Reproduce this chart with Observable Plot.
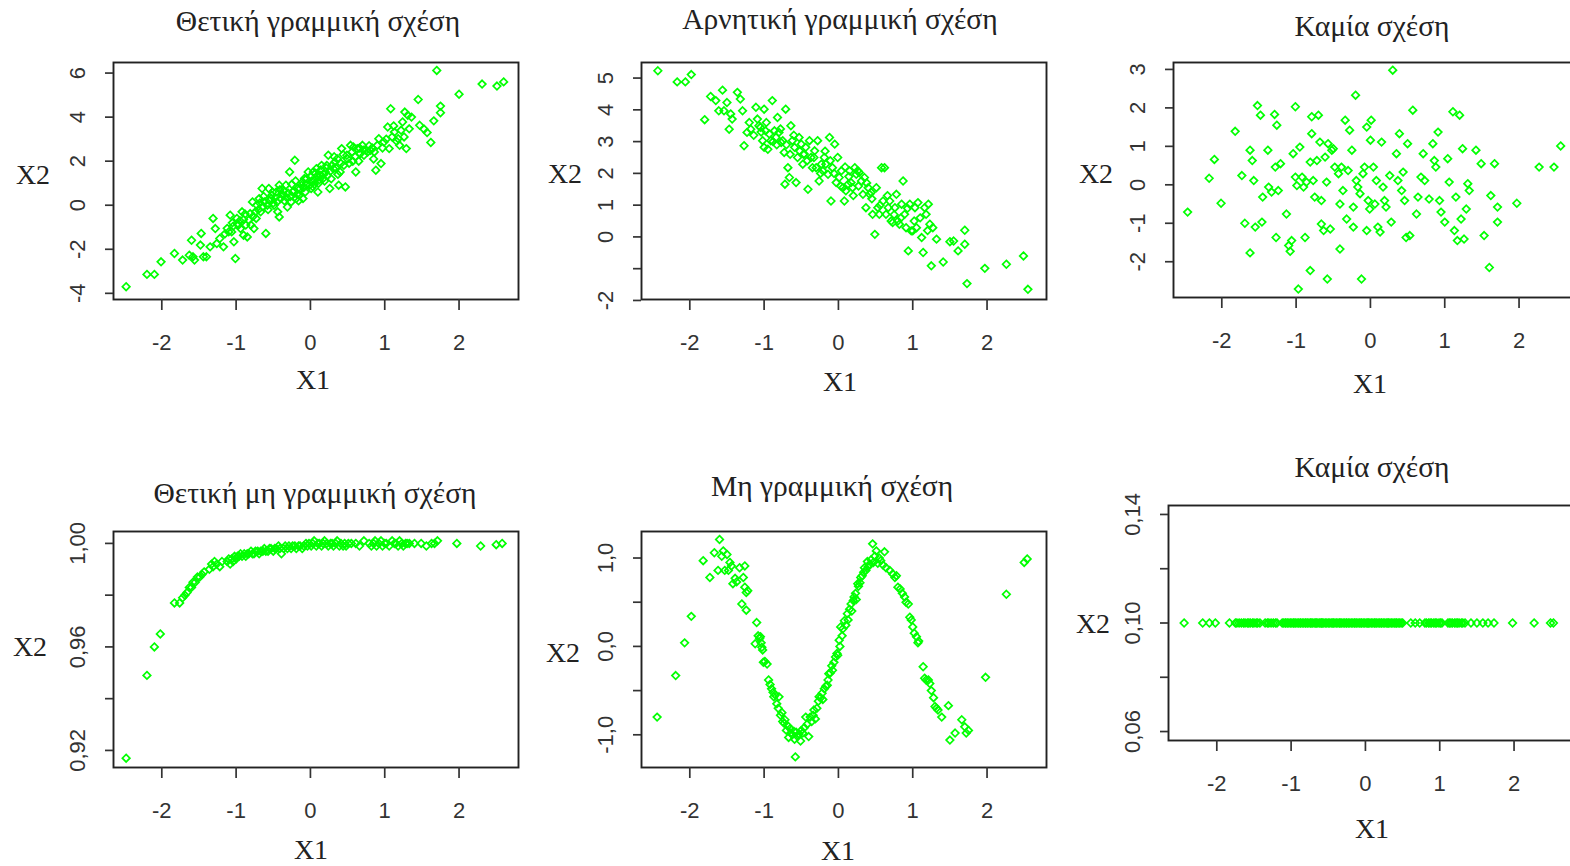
<!DOCTYPE html>
<html><head><meta charset="utf-8">
<script src="https://cdn.jsdelivr.net/npm/d3@7"></script>
<script src="https://cdn.jsdelivr.net/npm/@observablehq/plot@0.6"></script>
<style>
html,body{margin:0;padding:0;background:#fff;}
#root{position:relative;width:1570px;height:866px;overflow:hidden;background:#fff;}
.lbl{position:absolute;transform:translate(-50%,-50%);font-family:"Liberation Serif","Times New Roman",serif;color:#222;white-space:nowrap;line-height:1;}
</style></head><body><div id="root"></div>
<script>
// ---- shared axis values ----
const xDomain = [-2.65, 2.8];
const xTicks = [-2, -1, 0, 1, 2];
const xTickLabels = ["-2", "-1", "0", "1", "2"];

// ---- panel titles ----
const titles = ["Θετική γραμμική σχέση", "Αρνητική γραμμική σχέση", "Καμία σχέση",
                "Θετική μη γραμμική σχέση", "Μη γραμμική σχέση", "Καμία σχέση"];

// ---- y ticks / labels per panel ----
const yTicks1 = [-4, -2, 0, 2, 4, 6];
const yLabels1 = ["-4", "-2", "0", "2", "4", "6"];
const yTicks2 = [-2, -1, 0, 1, 2, 3, 4, 5];
const yLabels2 = ["-2", "", "0", "1", "2", "3", "4", "5"];
const yTicks3 = [-2, -1, 0, 1, 2, 3];
const yLabels3 = ["-2", "-1", "0", "1", "2", "3"];
const yTicks4 = [0.92, 0.94, 0.96, 0.98, 1.00];
const yLabels4 = ["0,92", "", "0,96", "", "1,00"];
const yTicks5 = [-1, -0.5, 0, 0.5, 1];
const yLabels5 = ["-1,0", "", "0,0", "", "1,0"];
const yTicks6 = [0.06, 0.08, 0.10, 0.12, 0.14];
const yLabels6 = ["0,06", "", "0,10", "", "0,14"];

// ---- data: [X1, X2] pairs ----
const pos1 = [[-2.48,-3.70],[-2.20,-3.14],[-2.10,-3.14],[-2.01,-2.57],[-1.83,-2.19],[-1.72,-2.49],[-1.63,-2.27],[-1.58,-2.34],[-1.56,-2.49],[-1.60,-1.59],[-1.48,-1.81],[-1.47,-1.28],[-1.44,-2.34],[-1.40,-2.34],[-1.35,-1.89],[-1.31,-0.60],[-1.28,-1.06],[-1.26,-1.74],[-1.22,-1.51],[-1.17,-1.89],[-1.10,-1.21],[-1.08,-0.45],[-1.06,-1.21],[-1.03,-1.66],[-1.01,-2.42],[-0.99,-0.60],[-0.97,-0.91],[-0.94,-1.06],[-0.92,-0.30],[-0.90,-1.36],[-0.85,-1.44],[-0.83,-0.68],[-0.81,-0.38],[-0.78,0.15],[-0.76,-1.06],[-0.74,-0.30],[-0.72,0.00],[-0.69,0.30],[-0.67,-0.30],[-0.65,0.76],[-0.62,0.15],[-0.60,-1.28],[-0.58,0.00],[-0.56,0.76],[-0.53,0.30],[-0.51,0.60],[-0.49,0.00],[-0.46,0.60],[-0.44,-0.30],[-0.42,-0.53],[-0.42,0.91],[-0.40,0.30],[-0.37,0.45],[-0.33,0.91],[-0.31,-0.08],[-0.28,1.51],[-0.26,0.15],[-0.24,0.60],[-0.21,2.04],[-0.19,0.30],[-0.17,0.76],[-0.15,0.45],[-0.12,0.91],[-0.10,0.30],[-0.08,1.21],[-0.05,1.21],[-0.03,1.51],[-0.01,0.91],[0.01,0.76],[0.04,1.51],[0.06,1.13],[0.08,1.66],[0.10,0.60],[0.13,1.36],[0.15,1.81],[0.17,1.21],[0.20,1.51],[0.22,1.81],[0.24,2.27],[0.26,0.76],[0.29,1.81],[0.31,1.66],[0.33,1.96],[0.36,2.11],[0.38,0.91],[0.40,1.51],[0.42,2.57],[0.45,1.81],[0.47,0.83],[0.49,2.27],[0.54,2.72],[0.56,2.42],[0.58,2.64],[0.61,1.51],[0.63,2.57],[0.67,2.34],[0.70,2.72],[0.72,2.27],[0.77,2.42],[0.81,2.49],[0.86,2.42],[0.88,1.59],[0.90,2.72],[0.92,3.02],[0.95,1.89],[0.99,2.87],[1.04,3.55],[1.06,2.57],[1.08,4.38],[1.13,3.32],[1.18,3.02],[1.20,2.72],[1.24,3.78],[1.27,4.23],[1.29,2.57],[1.31,4.08],[1.33,3.47],[1.36,4.00],[1.45,4.80],[1.47,3.63],[1.53,3.45],[1.57,3.30],[1.62,2.85],[1.66,3.83],[1.75,4.50],[1.75,4.20],[1.70,6.12],[2.00,5.04],[2.31,5.50],[2.51,5.41],[2.60,5.60],[-0.70,-0.20],[-0.64,-0.05],[-0.55,0.20],[-0.50,0.10],[-0.47,0.35],[-0.38,0.50],[-0.35,0.20],[-0.30,0.55],[-0.27,0.40],[-0.22,0.65],[-0.18,0.50],[-0.14,0.75],[-0.09,0.80],[-0.06,0.95],[0.02,1.10],[0.05,0.95],[0.09,1.30],[0.12,1.15],[0.18,1.40],[0.23,1.35],[0.27,1.55],[0.34,1.70],[0.41,1.90],[0.50,2.10],[0.60,2.20],[0.66,2.60],[0.75,2.50],[0.83,2.60],[-0.98,-0.85],[-0.90,-0.65],[-0.87,-0.90],[-1.12,-1.05],[-1.04,-0.95],[1.10,3.10],[1.22,3.40],[1.16,2.90],[-1.15,-1.30],[-1.05,-0.80],[-0.95,-0.70],[-0.88,-0.40],[-0.80,-0.90],[-0.77,-0.50],[-0.73,-0.60],[-0.68,0.10],[-0.63,0.40],[-0.57,-0.20],[-0.52,0.45],[-0.45,0.15],[-0.41,0.70],[-0.36,0.65],[-0.32,0.35],[-0.25,0.95],[-0.20,1.10],[-0.16,0.20],[-0.11,1.05],[-0.07,0.60],[0.00,1.30],[0.03,0.85],[0.07,1.45],[0.11,1.00],[0.14,1.60],[0.19,1.10],[0.21,1.70],[0.28,1.20],[0.32,2.20],[0.37,1.40],[0.44,2.30],[0.52,1.90],[0.57,2.00],[0.65,2.00],[0.71,2.50],[0.79,2.70],[0.85,2.10],[0.97,2.60],[1.02,3.00],[1.12,3.60],[1.26,3.10]];

const pos2 = [[-2.43,5.23],[-2.17,4.88],[-2.06,4.88],[-1.98,5.11],[-1.80,3.69],[-1.72,4.42],[-1.65,4.29],[-1.56,4.62],[-1.54,3.97],[-1.61,3.97],[-1.50,4.23],[-1.47,3.39],[-1.43,3.71],[-1.45,3.87],[-1.36,4.55],[-1.32,4.34],[-1.29,3.97],[-1.27,2.87],[-1.23,3.29],[-1.18,3.39],[-1.11,4.08],[-1.09,3.71],[-1.07,3.50],[-1.05,3.45],[-1.02,3.03],[-1.00,4.02],[-1.00,2.82],[-0.98,3.34],[-0.95,2.76],[-0.93,3.24],[-0.91,3.03],[-0.89,4.29],[-0.86,3.34],[-0.84,3.13],[-0.82,3.76],[-0.80,3.29],[-0.77,2.97],[-0.75,3.03],[-0.73,2.66],[-0.72,1.66],[-0.71,4.02],[-0.68,2.18],[-0.66,1.87],[-0.64,3.50],[-0.62,3.03],[-0.59,2.82],[-0.57,1.71],[-0.55,2.50],[-0.53,3.13],[-0.50,2.92],[-0.48,2.29],[-0.46,2.61],[-0.44,2.82],[-0.41,1.50],[-0.39,3.03],[-0.37,2.50],[-0.35,2.18],[-0.32,2.71],[-0.30,2.18],[-0.28,3.03],[-0.26,1.76],[-0.23,2.29],[-0.21,2.08],[-0.19,2.50],[-0.17,2.29],[-0.14,1.97],[-0.12,3.13],[-0.10,1.13],[-0.08,2.18],[-0.05,2.92],[-0.03,1.71],[-0.01,2.50],[0.01,1.87],[0.04,2.08],[0.06,1.55],[0.08,1.13],[0.10,1.45],[0.13,1.66],[0.15,2.08],[0.17,1.71],[0.19,1.55],[0.22,2.18],[0.24,1.97],[0.26,2.08],[0.28,2.03],[0.31,1.76],[0.33,1.34],[0.35,1.87],[0.37,0.92],[0.40,1.55],[0.42,1.34],[0.44,1.40],[0.46,0.71],[0.49,0.08],[0.51,1.55],[0.53,0.92],[0.55,0.71],[0.58,2.18],[0.60,1.13],[0.62,2.18],[0.64,0.71],[0.67,0.92],[0.69,1.13],[0.71,0.50],[0.73,0.45],[0.76,0.92],[0.78,1.34],[0.80,0.50],[0.82,0.40],[0.85,1.03],[0.87,1.76],[0.89,0.71],[0.91,0.29],[0.94,-0.44],[0.96,1.03],[0.98,0.19],[1.00,0.19],[1.03,0.92],[1.05,0.29],[1.07,1.08],[1.12,-0.02],[1.14,-0.49],[1.16,0.92],[1.18,0.71],[1.21,1.03],[1.23,0.40],[1.25,-0.91],[1.27,0.29],[1.32,-0.07],[1.41,-0.79],[1.50,-0.15],[1.55,-0.13],[1.61,-0.44],[1.70,0.21],[1.70,-0.23],[1.73,-1.47],[1.97,-0.99],[2.26,-0.86],[2.49,-0.60],[2.55,-1.65],[-1.20,3.60],[-1.14,3.20],[-1.04,3.30],[-0.97,3.60],[-0.88,3.00],[-0.83,2.90],[-0.78,3.40],[-0.70,2.90],[-0.65,2.60],[-0.60,3.20],[-0.52,2.70],[-0.47,2.60],[-0.42,2.40],[-0.33,2.50],[-0.24,2.00],[-0.18,2.70],[-0.11,2.40],[-0.06,2.00],[0.03,1.60],[0.09,2.20],[0.14,1.90],[0.20,1.30],[0.27,1.60],[0.38,1.70],[0.45,1.20],[0.56,1.00],[0.66,1.30],[0.75,0.70],[0.84,0.60],[0.93,0.90],[1.02,0.50],[1.10,0.60],[1.20,0.20]];

const pos3 = [[-2.46,-0.71],[-2.17,0.17],[-2.10,0.66],[-2.01,-0.48],[-1.82,1.39],[-1.73,0.24],[-1.69,-1.00],[-1.62,0.90],[-1.62,-1.77],[-1.59,0.63],[-1.57,0.11],[-1.55,-1.10],[-1.52,2.06],[-1.48,1.81],[-1.46,-0.97],[-1.45,-0.32],[-1.38,0.90],[-1.37,-0.06],[-1.33,-0.19],[-1.29,1.83],[-1.28,0.46],[-1.27,-1.37],[-1.26,1.55],[-1.24,-0.15],[-1.21,0.55],[-1.13,-0.76],[-1.10,-1.58],[-1.08,-1.73],[-1.06,-1.45],[-1.04,0.81],[-1.01,2.03],[-1.01,0.20],[-0.99,-0.02],[-0.97,-2.71],[-0.95,0.98],[-0.92,0.20],[-0.90,-0.06],[-0.88,-1.37],[-0.86,0.07],[-0.81,0.59],[-0.81,-2.23],[-0.79,1.77],[-0.79,1.33],[-0.77,0.11],[-0.75,-0.32],[-0.72,0.63],[-0.70,1.81],[-0.68,1.11],[-0.66,-0.41],[-0.66,-1.02],[-0.63,-1.19],[-0.61,0.72],[-0.59,0.07],[-0.58,-2.45],[-0.57,1.07],[-0.54,-1.15],[-0.52,0.90],[-0.50,0.94],[-0.48,0.46],[-0.43,0.29],[-0.41,-1.67],[-0.41,-0.50],[-0.39,0.46],[-0.37,-0.15],[-0.34,1.68],[-0.32,-0.89],[-0.30,0.37],[-0.28,1.42],[-0.25,0.90],[-0.23,-0.58],[-0.23,-1.10],[-0.20,2.33],[-0.19,0.11],[-0.17,-0.06],[-0.14,-0.23],[-0.12,-2.45],[-0.10,0.29],[-0.08,0.46],[-0.05,1.50],[-0.05,-1.19],[-0.03,-0.41],[-0.01,-0.63],[0.00,1.16],[0.01,1.68],[0.04,0.46],[0.06,-0.50],[0.08,0.11],[0.10,-1.10],[0.13,-1.23],[0.15,1.11],[0.17,-0.06],[0.19,-0.41],[0.21,-0.58],[0.26,0.24],[0.28,-0.97],[0.30,2.98],[0.35,0.81],[0.37,0.11],[0.39,1.33],[0.42,-0.15],[0.44,0.33],[0.46,-0.41],[0.48,-1.37],[0.50,1.07],[0.53,-1.32],[0.57,1.94],[0.62,-0.76],[0.64,-0.32],[0.68,0.20],[0.71,0.81],[0.73,0.11],[0.79,-0.37],[0.84,1.07],[0.86,0.63],[0.88,0.46],[0.91,1.37],[0.93,-0.41],[0.95,-0.71],[1.00,-0.97],[1.04,0.68],[1.06,0.07],[1.11,1.90],[1.13,-1.19],[1.15,-0.32],[1.17,-1.45],[1.20,1.81],[1.22,-0.89],[1.24,0.94],[1.26,-1.41],[1.29,-0.63],[1.31,0.03],[1.33,-0.15],[1.42,0.90],[1.49,0.55],[1.53,-1.32],[1.60,-2.15],[1.62,-0.28],[1.67,0.55],[1.71,-0.58],[1.71,-0.97],[1.97,-0.48],[2.27,0.46],[2.47,0.46],[2.56,1.01]];

const pos4 = [[-2.48,0.917],[-2.20,0.949],[-2.10,0.960],[-2.02,0.965],[-1.83,0.977],[-1.76,0.977],[-1.72,0.979],[-1.69,0.980],[-1.66,0.981],[-1.63,0.983],[-1.60,0.983],[-1.58,0.985],[-1.55,0.985],[-1.52,0.987],[-1.49,0.987],[-1.46,0.988],[-1.43,0.989],[-1.36,0.990],[-1.33,0.992],[-1.31,0.991],[-1.29,0.993],[-1.26,0.992],[-1.22,0.991],[-1.19,0.993],[-1.12,0.993],[-1.10,0.994],[-1.08,0.992],[-1.06,0.994],[-1.04,0.993],[-1.02,0.995],[-1.00,0.994],[-0.98,0.995],[-0.96,0.995],[-0.94,0.996],[-0.92,0.995],[-0.89,0.996],[-0.87,0.995],[-0.85,0.996],[-0.83,0.996],[-0.80,0.997],[-0.78,0.996],[-0.76,0.996],[-0.74,0.997],[-0.71,0.997],[-0.69,0.996],[-0.67,0.997],[-0.64,0.997],[-0.62,0.998],[-0.60,0.997],[-0.57,0.997],[-0.55,0.998],[-0.53,0.998],[-0.50,0.997],[-0.48,0.998],[-0.46,0.998],[-0.43,0.999],[-0.41,0.998],[-0.39,0.996],[-0.36,0.998],[-0.34,0.999],[-0.31,0.998],[-0.29,0.999],[-0.26,0.998],[-0.24,0.999],[-0.21,0.999],[-0.19,0.998],[-0.16,0.999],[-0.14,0.999],[-0.11,0.998],[-0.09,0.999],[-0.06,1.000],[-0.04,0.999],[-0.02,1.000],[0.01,0.999],[0.03,1.000],[0.05,1.001],[0.08,0.999],[0.10,1.000],[0.12,1.000],[0.15,0.999],[0.17,1.000],[0.19,1.001],[0.22,1.000],[0.24,0.999],[0.27,1.000],[0.29,1.000],[0.31,0.999],[0.34,1.000],[0.36,1.001],[0.39,0.999],[0.41,1.000],[0.44,0.999],[0.46,1.000],[0.48,0.999],[0.51,1.000],[0.55,1.000],[0.61,1.000],[0.66,0.999],[0.72,1.001],[0.79,1.000],[0.82,0.999],[0.85,1.000],[0.87,1.001],[0.89,0.999],[0.92,1.000],[0.95,1.001],[0.97,0.999],[1.00,1.000],[1.02,1.000],[1.06,0.999],[1.10,1.001],[1.13,1.000],[1.15,1.000],[1.18,0.999],[1.20,1.001],[1.23,1.000],[1.25,0.999],[1.28,1.000],[1.30,1.000],[1.33,1.000],[1.40,1.000],[1.49,1.000],[1.56,0.999],[1.63,1.000],[1.67,1.000],[1.71,1.001],[1.97,1.000],[2.29,0.999],[2.50,0.9995],[2.58,1.000]];

const pos5 = [[-2.44,-0.80],[-2.19,-0.33],[-2.07,0.04],[-1.98,0.34],[-1.82,0.97],[-1.73,0.78],[-1.67,1.06],[-1.62,0.86],[-1.60,1.21],[-1.57,1.02],[-1.55,1.08],[-1.53,0.86],[-1.50,1.04],[-1.48,0.86],[-1.46,0.95],[-1.44,0.91],[-1.42,0.71],[-1.39,0.77],[-1.37,0.73],[-1.33,0.89],[-1.30,0.48],[-1.28,0.78],[-1.26,0.91],[-1.26,0.67],[-1.24,0.61],[-1.24,0.41],[-1.22,0.63],[-1.12,0.03],[-1.10,0.27],[-1.08,0.12],[-1.06,0.09],[-1.05,0.11],[-1.04,0.04],[-1.03,-0.01],[-1.02,-0.04],[-1.01,-0.18],[-0.99,-0.17],[-0.96,-0.20],[-0.94,-0.38],[-0.92,-0.43],[-0.90,-0.48],[-0.88,-0.52],[-0.87,-0.57],[-0.85,-0.55],[-0.83,-0.65],[-0.81,-0.70],[-0.80,-0.57],[-0.78,-0.78],[-0.76,-0.75],[-0.75,-0.85],[-0.73,-0.87],[-0.72,-0.83],[-0.70,-0.95],[-0.68,-0.90],[-0.67,-1.03],[-0.65,-0.93],[-0.64,-0.98],[-0.62,-1.00],[-0.60,-0.96],[-0.59,-1.05],[-0.58,-1.25],[-0.57,-0.97],[-0.55,-1.02],[-0.53,-0.99],[-0.51,-1.07],[-0.50,-0.95],[-0.48,-0.98],[-0.46,-0.92],[-0.44,-0.80],[-0.42,-0.88],[-0.40,-1.02],[-0.38,-0.80],[-0.36,-0.85],[-0.34,-0.78],[-0.33,-0.72],[-0.31,-0.82],[-0.29,-0.70],[-0.27,-0.62],[-0.26,-0.57],[-0.24,-0.58],[-0.22,-0.53],[-0.21,-0.60],[-0.19,-0.48],[-0.17,-0.45],[-0.15,-0.44],[-0.14,-0.38],[-0.13,-0.31],[-0.11,-0.30],[-0.09,-0.22],[-0.08,-0.27],[-0.06,-0.18],[-0.04,-0.12],[-0.02,-0.08],[-0.01,-0.10],[0.01,0.07],[0.02,0.00],[0.03,0.22],[0.05,0.12],[0.06,0.20],[0.08,0.29],[0.10,0.24],[0.12,0.37],[0.13,0.30],[0.15,0.42],[0.17,0.48],[0.18,0.40],[0.20,0.52],[0.21,0.56],[0.23,0.60],[0.24,0.53],[0.26,0.71],[0.27,0.68],[0.29,0.72],[0.30,0.78],[0.32,0.80],[0.34,0.84],[0.35,0.89],[0.37,0.86],[0.39,0.96],[0.40,0.90],[0.42,0.93],[0.44,0.98],[0.46,1.16],[0.47,0.95],[0.49,1.02],[0.51,1.08],[0.53,0.94],[0.55,1.00],[0.57,0.97],[0.60,0.92],[0.62,1.07],[0.64,0.89],[0.69,0.86],[0.73,0.82],[0.76,0.78],[0.78,0.80],[0.80,0.67],[0.83,0.65],[0.86,0.60],[0.89,0.56],[0.91,0.50],[0.94,0.48],[0.96,0.33],[0.98,0.30],[1.00,0.22],[1.02,0.15],[1.05,0.11],[1.07,0.04],[1.08,0.06],[1.14,-0.23],[1.16,-0.36],[1.18,-0.38],[1.21,-0.38],[1.23,-0.42],[1.25,-0.50],[1.28,-0.58],[1.30,-0.68],[1.32,-0.70],[1.34,-0.72],[1.39,-0.80],[1.48,-0.67],[1.50,-1.06],[1.57,-0.98],[1.66,-0.83],[1.70,-0.91],[1.72,-0.98],[1.75,-0.95],[1.98,-0.35],[2.26,0.59],[2.50,0.95],[2.54,0.99]];

const x1Strip = [-2.44,-2.19,-2.1,-2.02,-1.83,-1.75,-1.73,-1.7,-1.67,-1.64,-1.62,-1.59,-1.57,-1.55,-1.52,-1.5,-1.47,-1.45,-1.42,-1.35,-1.32,-1.3,-1.27,-1.24,-1.21,-1.19,-1.12,-1.1,-1.08,-1.07,-1.05,-1.03,-1.01,-0.99,-0.97,-0.96,-0.94,-0.92,-0.9,-0.88,-0.87,-0.85,-0.83,-0.81,-0.8,-0.78,-0.76,-0.74,-0.73,-0.71,-0.69,-0.67,-0.66,-0.64,-0.62,-0.6,-0.59,-0.58,-0.56,-0.54,-0.52,-0.5,-0.48,-0.46,-0.44,-0.43,-0.41,-0.39,-0.37,-0.35,-0.34,-0.32,-0.3,-0.28,-0.26,-0.25,-0.23,-0.21,-0.19,-0.17,-0.15,-0.14,-0.12,-0.1,-0.08,-0.06,-0.05,-0.03,-0.01,0.01,0.03,0.04,0.06,0.08,0.1,0.12,0.13,0.15,0.17,0.19,0.21,0.22,0.24,0.26,0.28,0.3,0.31,0.33,0.35,0.37,0.39,0.41,0.42,0.44,0.46,0.48,0.5,0.61,0.67,0.73,0.8,0.82,0.85,0.87,0.89,0.92,0.94,0.96,0.99,1.01,1.03,1.11,1.13,1.15,1.17,1.2,1.22,1.24,1.26,1.29,1.31,1.34,1.42,1.5,1.58,1.65,1.73,1.98,2.27,2.49,2.53];
const x2Flat = 0.1;

// ---- layout (pixel geometry of each panel) ----
const panels = [
  {data: pos1, box:[113,62,518,299], yDomain:[-4.28,6.48], yTicks:yTicks1, yLabels:yLabels1, title:[318,22], xl:[313,380], yl:[33,175]},
  {data: pos2, box:[641,62,1046,299], yDomain:[-1.97,5.49], yTicks:yTicks2, yLabels:yLabels2, title:[840,20], xl:[840,382], yl:[565,174]},
  {data: pos3, box:[1173,62,1578,297], yDomain:[-2.93,3.18], yTicks:yTicks3, yLabels:yLabels3, title:[1372,27], xl:[1370,384], yl:[1096,174]},
  {data: pos4, box:[113,531,518,767], yDomain:[0.9134,1.0046], yTicks:yTicks4, yLabels:yLabels4, title:[315,494], xl:[311,850], yl:[30,647]},
  {data: pos5, box:[641,531,1046,767], yDomain:[-1.37,1.30], yTicks:yTicks5, yLabels:yLabels5, title:[832,487], xl:[838,851], yl:[563,653]},
  {data: x1Strip.map(v => [v, x2Flat]), box:[1168,505,1573,740], yDomain:[0.0567,0.1433], yTicks:yTicks6, yLabels:yLabels6, title:[1372,468], xl:[1372,829], yl:[1093,624]}
];

const root = document.getElementById("root");
const xLab = new Map(xTicks.map((v, i) => [v, xTickLabels[i]]));

function addLabel(text, [cx, cy], size) {
  const d = document.createElement("div");
  d.className = "lbl";
  d.textContent = text;
  d.style.left = cx + "px";
  d.style.top = cy + "px";
  d.style.fontSize = size + "px";
  root.appendChild(d);
}

panels.forEach((p, k) => {
  const mL = 90, mR = 10, mT = 10, mB = 70;
  const w = p.box[2] - p.box[0], h = p.box[3] - p.box[1];
  const yLab = new Map(p.yTicks.map((v, i) => [v, p.yLabels[i]]));
  const rows = p.data.map(([x, y]) => ({x, y}));
  const chart = Plot.plot({
    width: w + mL + mR, height: h + mT + mB,
    marginLeft: mL, marginRight: mR, marginTop: mT, marginBottom: mB,
    x: {domain: xDomain, label: null},
    y: {domain: p.yDomain, label: null},
    style: {background: "transparent", color: "#333", fontFamily: "'Liberation Sans', Arial, sans-serif", fontSize: "22px", overflow: "visible"},
    marks: [
      Plot.dot(rows, {x: "x", y: "y", symbol: "diamond2", r: 3.4, stroke: "#00ff00", strokeWidth: 1.7, fill: "none"}),
      Plot.frame({stroke: "#222", strokeWidth: 1.9}),
      Plot.axisX(xTicks, {tickSize: 11, tickPadding: 24, strokeWidth: 1.7, label: null, tickFormat: d => xLab.get(d), fontSize: 22}),
      Plot.axisY(p.yTicks, {tickSize: 8, tickPadding: 21, tickRotate: -90, strokeWidth: 1.7, label: null, tickFormat: d => yLab.get(d), fontSize: 22})
    ]
  });
  chart.style.position = "absolute";
  chart.style.left = (p.box[0] - mL) + "px";
  chart.style.top = (p.box[1] - mT) + "px";
  root.appendChild(chart);
  addLabel(titles[k], p.title, 29.5);
  addLabel("X1", p.xl, 28);
  addLabel("X2", p.yl, 28);
});
</script>
</body></html>
